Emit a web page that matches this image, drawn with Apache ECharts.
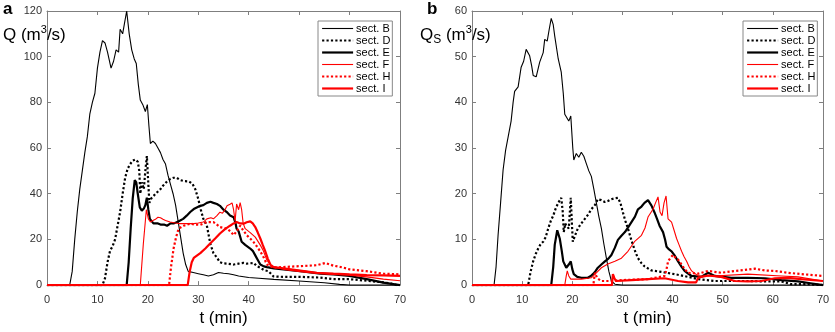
<!DOCTYPE html>
<html>
<head>
<meta charset="utf-8">
<script src="https://cdn.jsdelivr.net/npm/echarts@6/dist/echarts.min.js"></script>
<style>html,body{margin:0;padding:0;background:#fff}#c{width:835px;height:332px}</style>
</head>
<body>
<div id="c"></div>
<script>
// ---- DATA ----
const seriesNames = ['sect. B', 'sect. D', 'sect. E', 'sect. F', 'sect. H', 'sect. I'];
const xTicks = [0, 10, 20, 30, 40, 50, 60, 70];

// Panel a: Q (m3/s), [t (min), value]
const qB = [[0,0],[4.5,0],[5,6],[5.5,20],[6,32],[6.5,42],[7,50],[7.5,58],[8,65],[8.5,75],[9,80],[9.5,84],[10,95],[10.5,102],[11,107],[11.5,106],[12,102],[12.7,95],[13.2,98],[13.7,103],[14.2,102],[14.5,112],[15,110],[15.4,115],[15.8,120],[16.3,110],[16.8,103],[17.3,99],[17.7,97],[18.1,88],[18.5,81],[19,79],[19.5,76],[19.9,79],[20.2,70],[20.5,62],[21,63],[21.5,62],[22,60],[22.5,58],[23,55],[23.5,53],[24,48],[24.5,44],[25,40],[25.5,35],[26,28],[26.5,21],[27,14],[27.5,9],[28,6],[29,5.5],[30,5],[31,4.5],[32,4],[33,4.5],[34,5.5],[35,5.2],[36,5],[37,4.5],[38,4],[40,3.3],[42,3],[45,2.5],[50,1.8],[55,1],[58,0.3],[60,0],[70,0]];
const qD = [[0,0],[11,0],[11.5,3],[12,10],[12.5,15],[13,17],[13.5,20],[14,26],[14.5,32],[15,40],[15.5,47],[16,51],[16.5,53],[17,54.5],[17.5,55],[18,54],[18.3,50],[18.5,40],[18.8,45],[19.2,42],[19.5,50],[19.8,56.5],[20.1,44],[20.3,36],[20.7,38],[21.1,39],[22,41],[22.5,42],[23,43.5],[23.8,45.4],[24.5,46.5],[25.1,47],[25.7,47],[26.4,46],[27.2,45.5],[28.1,45.4],[28.8,44.5],[29.4,42],[30,37.7],[30.5,33],[31,29],[31.7,26],[32.4,18],[33,14],[33.7,12],[34.3,10],[35,9.5],[35.7,9.4],[37,9],[38,9.4],[39,9.7],[39.6,9.4],[41,9.7],[41.6,8.3],[42.3,7.6],[43.1,6.5],[43.9,6.1],[44.5,4.8],[44.9,3.8],[47,3.6],[50.2,3.6],[54.2,3.3],[56.8,2.6],[60,2.6],[63.4,1.9],[66.7,1.2],[68,0.8],[69.4,0],[70,0]];
const qE = [[0,0],[15.8,0],[16.2,10],[16.6,25],[17,38],[17.4,46],[17.7,45],[18,40],[18.4,34],[18.8,32.6],[19.2,33.5],[19.5,35],[19.8,38.3],[20.1,33],[20.4,29],[21.1,27],[22,27],[22.5,26.5],[23.2,26.5],[23.8,26],[24.5,27],[25.1,27],[25.7,27.5],[26.4,28.3],[27,29],[27.7,30.4],[28.4,32],[29.1,33.3],[29.7,34],[30.4,34.7],[31,35],[31.7,36],[32.4,36.5],[33,36],[33.7,35.5],[34.3,34.7],[35,33],[35.7,31.9],[36.3,30.5],[37,29.7],[37.4,27],[37.6,24.7],[38,23.5],[38.3,23.3],[38.6,19],[39.3,17.6],[40.3,16],[40.8,15],[41.3,13],[41.8,11],[42.3,9],[43,8.2],[43.6,7.9],[45,7.3],[46.9,6.9],[50.2,6.1],[54.2,5],[56.8,4.7],[60,4],[63.4,2.6],[66.7,1.1],[70,0]];
const qF = [[0,0],[18.5,0],[19.1,18],[19.7,33],[20.1,29],[20.5,27.6],[21,28.3],[21.5,28.8],[22,29.7],[22.5,29.5],[23,28.8],[23.5,28.3],[24.4,27.6],[25.5,27.2],[26.4,26.9],[28,26.9],[29.1,26.9],[30,27.2],[31,27.6],[31.7,29],[32.5,29.5],[33,29],[33.7,30.4],[34.3,31.9],[34.8,31.5],[35.3,33],[35.7,34.7],[36.3,35.4],[36.7,36],[37,33],[37.3,28],[37.6,35.5],[38,33],[38.3,36.1],[38.6,33],[38.9,27],[39.3,24.7],[40.3,23],[41.3,21],[42.3,17.5],[42.9,15],[43.6,11],[44.2,9],[44.6,8.3],[46.9,6.9],[50.2,5.9],[53.5,5.1],[56.8,4.7],[60,4.3],[63.4,3.6],[66.7,2.6],[70,1.9]];
const qH = [[0,0],[24.2,0],[24.6,8],[25.1,16],[25.6,21],[26.1,24.7],[27.1,26],[28.4,26.9],[29.4,26.5],[30.4,26.4],[31.7,27.6],[33,27.6],[33.7,26.5],[34.3,25.4],[35.7,24.7],[36.4,23.5],[37,21.9],[37.6,23.5],[38.3,26],[38.9,24],[39.6,21.9],[40.9,19],[41.6,17],[42.3,14.7],[43,12],[43.6,9],[44.9,7.6],[46.9,7.9],[50.2,8.3],[53.5,8.7],[55.2,9.7],[56.8,8.5],[58.5,7.8],[60,6.9],[63.4,6.1],[66.7,5],[70,4.7]];
const qI = [[0,0],[27.9,0],[28.3,6],[28.7,10],[29.1,11.9],[30.4,14],[31.4,16],[32.4,18.3],[33.4,20.5],[34.3,22.6],[35.3,24.5],[36.3,26],[37,27],[37.6,27.6],[38.3,27],[39,26.9],[39.6,27.5],[40.3,27.9],[40.8,27],[41.3,25.4],[41.8,23],[42.3,20.4],[42.8,17.5],[43.3,14.7],[43.8,11.5],[44.3,9],[44.9,7.9],[46.9,7.3],[50.2,6.4],[53.5,5.4],[56.8,5],[60,4.7],[63.4,4.4],[66.7,4.3],[70,4]];

// Panel b: Qs (m3/s), [t (min), value]
const sB = [[0,0],[4.4,0],[4.8,4],[5.2,10.9],[5.7,18],[6.2,25.2],[6.7,29.5],[7.2,32.4],[7.8,35.9],[8.2,40],[8.5,42.4],[9.2,43.4],[9.8,47.7],[10.3,49],[10.8,51.6],[11.5,50.2],[11.9,48],[12.2,45.9],[12.8,45.6],[13.5,48.8],[14.2,50.9],[14.5,53.8],[15,53.4],[15.4,56],[15.8,58.4],[16.2,57],[16.5,54.5],[17.2,49.5],[17.8,46.6],[18.2,42],[18.5,37.4],[19.3,35.9],[19.7,37],[20.1,30],[20.3,27.4],[20.8,28.8],[21.3,28],[21.8,29.1],[22.3,28.2],[22.8,26.6],[23.3,25],[23.8,23.8],[24.3,21],[24.8,18],[25.3,15],[25.8,12.4],[26.3,9],[26.8,5.9],[27.3,3],[27.8,0.9],[28.5,0.2],[30,0],[70,0]];
const sD = [[0,0],[11.2,0],[11.7,3],[12.2,5.2],[12.7,6.8],[13.2,8],[13.7,9],[14.2,9.5],[14.7,10.5],[15.2,12.4],[15.7,14],[16.2,15.2],[16.7,16.8],[17.2,18],[17.8,19.1],[18.1,16],[18.3,11.6],[18.6,13.5],[18.8,13],[19.3,12.4],[19.7,19.1],[19.9,14],[20.1,9.5],[20.6,11],[21.1,12.4],[21.8,13.5],[22.5,14.5],[23.2,15.5],[23.8,16.6],[24.5,17.5],[25.1,18.8],[25.8,18.6],[26.5,18.2],[27.1,18.4],[27.8,18.8],[28.5,19],[29.1,19.1],[29.6,18],[30.1,15.9],[30.6,14],[31.1,12.4],[31.6,10.5],[32.1,8.8],[32.6,7.2],[33.1,5.9],[33.8,4.8],[34.4,4.1],[35.8,3.2],[37.8,2.9],[40.4,2.4],[43.1,1.8],[45.1,1.3],[48.4,0.9],[55,0.9],[58.4,0.8],[61.7,0.8],[63.7,0.2],[67,0.2],[70,0]];
const sE = [[0,0],[15.8,0],[16.2,4],[16.5,8.8],[17,12],[17.5,10.2],[17.9,7.5],[18.2,5.2],[18.8,3.8],[19.3,4.5],[19.7,5.2],[20,3.5],[20.3,2.4],[21,1.8],[21.8,1.6],[23.1,1.6],[23.7,2],[24.1,2.4],[24.6,3],[25.1,3.8],[25.8,4.5],[26.5,5.2],[27.2,5.8],[27.8,6.6],[28.5,8.2],[29.1,9.9],[29.8,10.8],[30.5,11.6],[31.1,12.6],[31.8,13.8],[32.5,15],[33.1,16.6],[33.8,17.2],[34.4,18],[35.1,18.6],[35.8,17.4],[36.4,15.9],[36.9,14.5],[37.4,13],[38.1,11.6],[38.5,10],[38.8,8.4],[39.3,7.8],[39.8,7.4],[40.4,6.5],[41.1,5.2],[41.8,4],[42.4,3.1],[43.1,2.5],[43.8,2],[45.7,1.8],[47.1,2.7],[48.4,2],[51.7,1.6],[55,1.6],[58.4,1.5],[61.7,1.1],[65,0.8],[67.5,0.4],[70,0]];
const sF = [[0,0],[18.5,0],[18.8,2],[19,3.1],[19.3,2],[19.7,1.3],[21.8,1.3],[23.8,1.6],[24.8,2.7],[25.8,3.8],[27.1,4.6],[28.5,5.2],[29.8,5.9],[31.1,7.4],[32.4,9.5],[33.8,10.9],[34.5,12.5],[35.1,14.9],[36.1,16.6],[36.6,18],[37.1,19.3],[37.5,16],[37.9,15.2],[38.3,18],[38.7,19.5],[39.1,14.5],[39.8,13.8],[40.3,12],[40.8,10.2],[41.3,8.8],[41.8,7.4],[42.3,6.2],[42.8,5.2],[43.3,4],[43.8,3.1],[45.1,2],[48.4,2],[55,2.4],[61.7,2],[65,1.8],[70,0.9]];
const sH = [[0,0],[24.2,0],[24.5,2.7],[25,1.5],[25.8,0.9],[27.8,0.9],[29.8,1.1],[35.1,1.3],[38.4,2],[38.8,3.5],[39.1,5.2],[39.6,6],[40.1,6.6],[40.6,6],[41.1,5.6],[41.8,4.5],[42.4,3.5],[43.1,2.7],[45.1,2.5],[47.1,3.1],[49.7,2.7],[52.4,3.1],[55,3.4],[56.4,3.6],[58.4,3.2],[60.4,3.1],[63,2.7],[65.7,2.4],[70,2]];
const sI = [[0,0],[27.9,0],[28.1,2.4],[28.4,1.5],[28.7,0.9],[31.8,1.1],[35.1,1.3],[38.4,1.5],[41.1,0.9],[43.1,0.6],[44.7,0.6],[45.1,1.6],[47.1,2.1],[49.7,1.8],[52.4,0.9],[55,0.8],[57.7,0.9],[60.4,1.5],[63,1.6],[65.7,1.3],[70,0.9]];

// ---- STYLE ----
const FONT = 'Liberation Sans, Arial, Helvetica, sans-serif';
const AXC = '#7f7f7f';
const styles = [
  {color:'#000000', width:1.1, type:'solid'},
  {color:'#000000', width:2.2, type:'dotted'},
  {color:'#000000', width:2.2, type:'solid'},
  {color:'#ff0000', width:1.1, type:'solid'},
  {color:'#ff0000', width:2.2, type:'dotted'},
  {color:'#ff0000', width:2.2, type:'solid'}
];
const panelA = [qB, qD, qE, qF, qH, qI];
const panelB = [sB, sD, sE, sF, sH, sI];

function xAx(grid, pos, labels) {
  return {
    type:'value', gridIndex:grid, position:pos, min:0, max:70, interval:10,
    axisLine:{show:true, onZero:false, lineStyle:{color:AXC, width:1}},
    axisTick:{show:true, inside:true, length:4, lineStyle:{color:AXC}},
    axisLabel:{show:labels, fontSize:11, color:'#333', margin:9, fontFamily:FONT},
    splitLine:{show:false},
    name: labels ? 't (min)' : '', nameLocation:'middle', nameGap:20,
    nameTextStyle:{fontSize:17, color:'#000', fontFamily:FONT}
  };
}
function yAx(grid, pos, labels, max, interval) {
  return {
    type:'value', gridIndex:grid, position:pos, min:0, max:max, interval:interval,
    axisLine:{show:true, onZero:false, lineStyle:{color:AXC, width:1}},
    axisTick:{show:true, inside:true, length:4, lineStyle:{color:AXC}},
    axisLabel:{show:labels, fontSize:11, color:'#333', margin:5, fontFamily:FONT},
    splitLine:{show:false}
  };
}

const series = [];
[panelA, panelB].forEach((panel, p) => {
  panel.forEach((data, i) => {
    series.push({
      type:'line', name:seriesNames[i], xAxisIndex:p*2, yAxisIndex:p*2,
      data:data, showSymbol:false, symbol:'none', animation:false,
      lineStyle:{color:styles[i].color, width:styles[i].width, type:styles[i].type},
      itemStyle:{color:styles[i].color}
    });
  });
});

function legend(left) {
  return {
    data:seriesNames.map((n, i) => ({
      name:n,
      lineStyle:{color:styles[i].color, width:styles[i].width, type:styles[i].type, opacity:1}
    })),
    orient:'vertical', left:left, top:21,
    itemWidth:31, itemHeight:11, itemGap:1,
    padding:[2,2,2,3], borderColor:'#888', borderWidth:1, backgroundColor:'#fff',
    itemStyle:{opacity:0},
    textStyle:{fontSize:11, lineHeight:11, color:'#000', fontFamily:FONT, padding:[0,0,0,-2]},
    selectedMode:false
  };
}

const rich = {
  sup:{fontSize:11, fontFamily:FONT, fontWeight:'normal', color:'#000', verticalAlign:'top', lineHeight:22, padding:[0,0,10,0]},
  sub:{fontSize:12, fontFamily:FONT, fontWeight:'normal', color:'#000', padding:[10,0,0,0], lineHeight:22}
};

const option = {
  animation:false,
  textStyle:{fontFamily:FONT},
  title:[
    {text:'a', left:3, top:1, padding:0, textStyle:{fontSize:17, fontWeight:'bold', color:'#000', fontFamily:FONT}},
    {text:'b', left:427, top:1, padding:0, textStyle:{fontSize:17, fontWeight:'bold', color:'#000', fontFamily:FONT}},
    {text:'Q (m{sup|3}/s)', left:3, top:24, padding:0, textStyle:{fontSize:17, fontWeight:'normal', color:'#000', fontFamily:FONT, lineHeight:22, rich:rich}},
    {text:'Q{sub|S} (m{sup|3}/s)', left:420, top:24, padding:0, textStyle:{fontSize:17, fontWeight:'normal', color:'#000', fontFamily:FONT, lineHeight:22, rich:rich}}
  ],
  legend:[legend(318), legend(743)],
  grid:[
    {left:47, right:435, top:11, bottom:41, containLabel:false},
    {left:472, right:12, top:11, bottom:41, containLabel:false}
  ],
  xAxis:[xAx(0,'bottom',true), xAx(0,'top',false), xAx(1,'bottom',true), xAx(1,'top',false)],
  yAxis:[yAx(0,'left',true,120,20), yAx(0,'right',false,120,20), yAx(1,'left',true,60,10), yAx(1,'right',false,60,10)],
  series:series
};
const chart = echarts.init(document.getElementById('c'), null, {renderer:'canvas'});
chart.setOption(option);
</script>
</body>
</html>
